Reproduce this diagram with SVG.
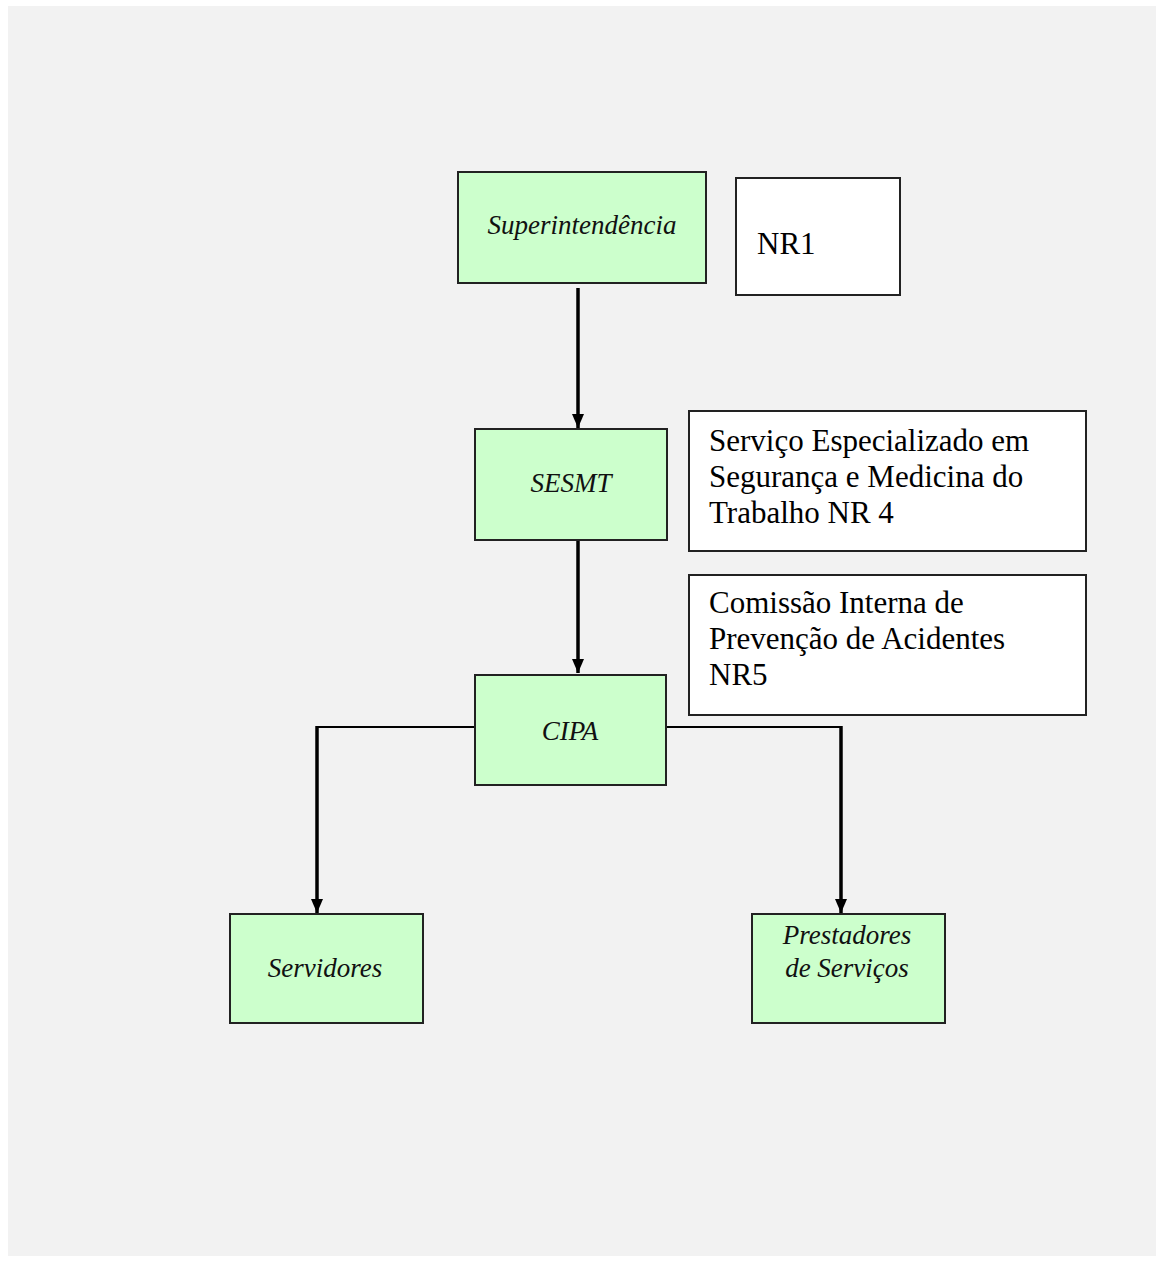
<svg xmlns="http://www.w3.org/2000/svg" width="1157" height="1261" viewBox="0 0 1157 1261">
<style>
.green{fill:#ccffcc;stroke:#222;stroke-width:2}
.white{fill:#fff;stroke:#222;stroke-width:2}
.it{font-family:"Liberation Serif","Times New Roman",serif;font-style:italic;font-size:27px;fill:#111;text-anchor:middle}
.rg{font-family:"Liberation Serif","Times New Roman",serif;font-size:31px;fill:#000}
.thick{stroke:#000;stroke-width:3.5;fill:none}
.thin{stroke:#000;stroke-width:2;fill:none}
</style>
<defs>
<marker id="ah" viewBox="0 0 14 12" refX="14" refY="6" markerWidth="14" markerHeight="12" markerUnits="userSpaceOnUse" orient="auto">
<path d="M0,0 L14,6 L0,12 Z" fill="#000"/>
</marker>
</defs>
<rect x="0" y="0" width="1157" height="1261" fill="#fff"/>
<rect x="8" y="6" width="1148" height="1250" fill="#f2f2f2"/>
<g id="connectors">
<line class="thick" x1="578" y1="288" x2="578" y2="428" marker-end="url(#ah)"/>
<line class="thick" x1="578" y1="534" x2="578" y2="673" marker-end="url(#ah)"/>
<polyline class="thin" points="475,727 317,727"/>
<line class="thick" x1="317" y1="726" x2="317" y2="913" marker-end="url(#ah)"/>
<polyline class="thin" points="666,727 841,727"/>
<line class="thick" x1="841" y1="726" x2="841" y2="913" marker-end="url(#ah)"/>
</g>
<g id="superintendencia">
<rect class="green" x="458" y="172" width="248" height="111"/>
<text class="it" x="582" y="234">Superintendência</text>
</g>
<g id="nr1">
<rect class="white" x="736" y="178" width="164" height="117"/>
<text class="rg" x="757" y="254">NR1</text>
</g>
<g id="sesmt">
<rect class="green" x="475" y="429" width="192" height="111"/>
<text class="it" x="571" y="492">SESMT</text>
</g>
<g id="sesmt-desc">
<rect class="white" x="689" y="411" width="397" height="140"/>
<text class="rg" x="709" y="451">Serviço Especializado em</text>
<text class="rg" x="709" y="487">Segurança e Medicina do</text>
<text class="rg" x="709" y="523">Trabalho NR 4</text>
</g>
<g id="cipa-desc">
<rect class="white" x="689" y="575" width="397" height="140"/>
<text class="rg" x="709" y="613">Comissão Interna de</text>
<text class="rg" x="709" y="649">Prevenção de Acidentes</text>
<text class="rg" x="709" y="685">NR5</text>
</g>
<g id="cipa">
<rect class="green" x="475" y="675" width="191" height="110"/>
<text class="it" x="570" y="740">CIPA</text>
</g>
<g id="servidores">
<rect class="green" x="230" y="914" width="193" height="109"/>
<text class="it" x="325" y="977">Servidores</text>
</g>
<g id="prestadores">
<rect class="green" x="752" y="914" width="193" height="109"/>
<text class="it" x="847" y="944">Prestadores</text>
<text class="it" x="847" y="977">de Serviços</text>
</g>
</svg>
